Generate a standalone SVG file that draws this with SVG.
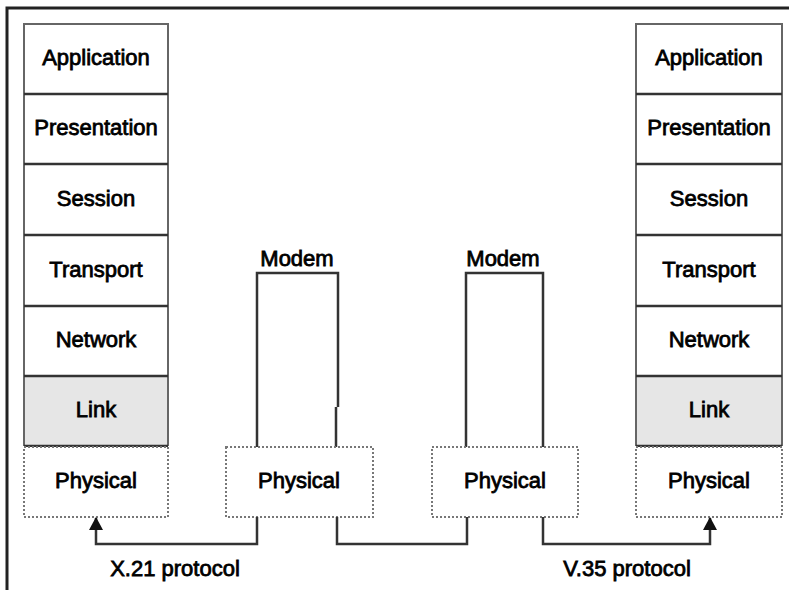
<svg xmlns="http://www.w3.org/2000/svg" width="789" height="590" viewBox="0 0 789 590">
  <style>
    .lbl { font-family: "Liberation Sans", Arial, sans-serif; font-size: 22px; fill: #000; stroke: #000; stroke-width: 0.8; text-anchor: middle; }
    .cell { fill: #fff; stroke: none; }
    .link { fill: #e6e6e6; stroke: none; }
    .edge { stroke: #666; stroke-width: 2; fill: none; }
    .sep { stroke: #333; stroke-width: 2.5; fill: none; }
    .phys { fill: #fff; stroke: #777; stroke-width: 2; stroke-dasharray: 2 2; }
    .wire { stroke: #333; stroke-width: 2.5; fill: none; }
    .frame { stroke: #222; stroke-width: 3; fill: none; }
  </style>
  <defs>
    <marker id="arrow" viewBox="0 0 13 14" refX="12" refY="7" markerWidth="13" markerHeight="14" markerUnits="userSpaceOnUse" orient="auto">
      <path d="M0,0 L13,7 L0,14 Z" fill="#111"/>
    </marker>
  </defs>

  <rect width="789" height="590" fill="#fff"/>
  <path class="frame" d="M7,590 V8 H789"/>

  <!-- left protocol stack -->
  <g id="stack-left">
    <rect class="cell" x="24" y="24" width="144" height="352"/>
    <rect class="link" x="24" y="376" width="144" height="70"/>
    <path class="edge" d="M24,446 V24 H168 V446"/>
    <path class="sep" d="M24,94 H168 M24,164 H168 M24,235 H168 M24,306 H168 M24,376 H168 M24,446 H168"/>
    <rect class="phys" x="24" y="447" width="144" height="70"/>
    <text class="lbl" x="96" y="65">Application</text>
    <text class="lbl" x="96" y="135">Presentation</text>
    <text class="lbl" x="96" y="206">Session</text>
    <text class="lbl" x="96" y="277">Transport</text>
    <text class="lbl" x="96" y="347">Network</text>
    <text class="lbl" x="96" y="417">Link</text>
    <text class="lbl" x="96" y="488">Physical</text>
  </g>

  <!-- right protocol stack -->
  <g id="stack-right">
    <rect class="cell" x="636" y="24" width="146" height="352"/>
    <rect class="link" x="636" y="376" width="146" height="70"/>
    <path class="edge" d="M636,446 V24 H782 V446"/>
    <path class="sep" d="M636,94 H782 M636,164 H782 M636,235 H782 M636,306 H782 M636,376 H782 M636,446 H782"/>
    <rect class="phys" x="636" y="447" width="146" height="70"/>
    <text class="lbl" x="709" y="65">Application</text>
    <text class="lbl" x="709" y="135">Presentation</text>
    <text class="lbl" x="709" y="206">Session</text>
    <text class="lbl" x="709" y="277">Transport</text>
    <text class="lbl" x="709" y="347">Network</text>
    <text class="lbl" x="709" y="417">Link</text>
    <text class="lbl" x="709" y="488">Physical</text>
  </g>

  <!-- modem 1 -->
  <g id="modem-1">
    <path class="wire" d="M257,447 V273 H338 V407 M336,407 V447"/>
    <text class="lbl" x="297" y="266">Modem</text>
    <rect class="phys" x="226" y="447" width="147" height="70"/>
    <text class="lbl" x="299" y="488">Physical</text>
  </g>

  <!-- modem 2 -->
  <g id="modem-2">
    <path class="wire" d="M466,447 V273 H543 V447"/>
    <text class="lbl" x="503" y="266">Modem</text>
    <rect class="phys" x="432" y="447" width="146" height="70"/>
    <text class="lbl" x="505" y="488">Physical</text>
  </g>

  <!-- physical links -->
  <g id="connectors">
    <path class="wire" d="M257,517 V544 H96 V518" marker-end="url(#arrow)"/>
    <path class="wire" d="M337,517 V544 H467 V517"/>
    <path class="wire" d="M543,517 V544 H710 V518" marker-end="url(#arrow)"/>
    <text class="lbl" x="175" y="576">X.21 protocol</text>
    <text class="lbl" x="627" y="576">V.35 protocol</text>
  </g>
</svg>
